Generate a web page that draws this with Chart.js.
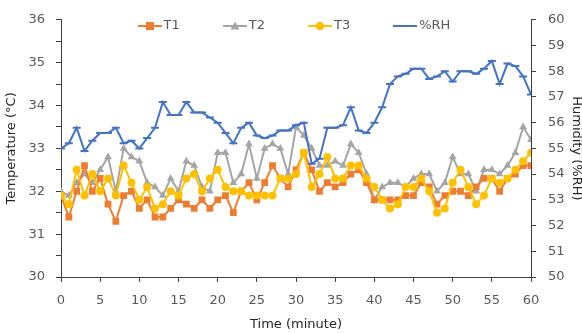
<!DOCTYPE html>
<html>
<head>
<meta charset="utf-8">
<script src="https://cdn.jsdelivr.net/npm/chart.js@4/dist/chart.umd.min.js"></script>
<style>
html,body{margin:0;padding:0;background:#fff;}
#wrap{width:582px;height:333px;position:relative;}
</style>
</head>
<body>
<div id="wrap"><canvas id="c" width="582" height="333"></canvas></div>
<script>
const minutes = Array.from({length: 61}, (_, i) => i);
const t1 = [31.9,31.4,32.0,32.6,32.0,32.3,31.7,31.3,31.9,32.0,31.6,31.8,31.4,31.4,31.6,31.8,31.7,31.6,31.8,31.6,
            31.8,31.9,31.5,32.0,32.2,31.8,32.2,32.6,32.3,32.1,32.5,32.9,32.5,32.0,32.2,32.1,32.2,32.4,32.5,32.2,
            31.8,31.8,31.8,31.8,31.9,31.9,32.2,32.1,31.7,31.9,32.0,32.0,31.9,32.1,32.3,32.3,32.0,32.3,32.4,32.6,32.6];
const t2 = [32.0,31.9,32.2,32.4,32.2,32.5,32.8,32.0,33.0,32.8,32.7,32.2,32.1,31.9,32.3,32.0,32.7,32.6,32.1,32.0,
            32.9,32.9,32.2,32.4,33.1,32.3,33.0,33.1,33.0,32.4,33.5,33.3,33.0,32.6,32.6,32.7,32.6,33.1,32.9,32.4,
            31.8,32.1,32.2,32.2,32.1,32.3,32.4,32.4,32.0,32.2,32.8,32.4,32.4,32.0,32.5,32.5,32.4,32.6,32.9,33.5,33.2];
const t3 = [31.9,31.7,32.5,31.9,32.4,32.0,32.3,31.9,32.6,32.2,31.8,32.1,31.6,31.7,32.0,31.9,32.3,32.4,32.0,32.3,
            32.5,32.1,32.0,32.0,31.9,31.9,31.9,31.9,32.3,32.3,32.4,32.9,32.1,32.4,32.8,32.3,32.3,32.6,32.6,32.3,
            32.1,31.8,31.6,31.7,32.1,32.1,32.3,32.0,31.5,31.6,32.2,32.5,32.1,31.7,31.9,32.3,32.2,32.3,32.5,32.7,32.9];
const rh = [55.0,55.2,55.8,54.9,55.3,55.6,55.6,55.8,55.2,55.3,55.0,55.4,55.8,56.8,56.3,56.3,56.8,56.4,56.4,56.2,
            56.0,55.6,55.2,55.8,56.0,55.5,55.4,55.5,55.7,55.7,55.9,56.0,54.4,54.6,55.8,55.8,55.9,56.6,55.7,55.6,
            56.0,56.6,57.5,57.8,57.9,58.1,58.1,57.7,57.8,58.0,57.6,58.0,58.0,57.9,58.1,58.4,57.5,58.3,58.2,57.8,57.1];
const seriesNames = ['T1','T2','T3','%RH'];
const xTicks = [0,5,10,15,20,25,30,35,40,45,50,55,60];
const tempTicks = [30,31,32,33,34,35,36];
const rhTicks = [50,51,52,53,54,55,56,57,58,59,60];

const colors = ['#ED7D31','#A5A5A5','#FFC000','#4472C4'];
const FONT = 'DejaVu Sans';

function pts(arr){ return minutes.map((m,i)=>({x:m, y:arr[i]})); }

function legendIcon(color, kind){
  const c = document.createElement('canvas');
  c.width = 24; c.height = 12;
  const g = c.getContext('2d');
  g.strokeStyle = color; g.lineWidth = 2;
  g.beginPath(); g.moveTo(0,6); g.lineTo(24,6); g.stroke();
  g.fillStyle = color;
  if(kind==='rect'){ g.fillRect(12-4,6-4,8,8); }
  else if(kind==='triangle'){ g.beginPath(); g.moveTo(12,1.5); g.lineTo(16.5,9.5); g.lineTo(7.5,9.5); g.closePath(); g.fill(); }
  else if(kind==='circle'){ g.beginPath(); g.arc(12,6,4.2,0,Math.PI*2); g.fill(); }
  return c;
}
const icons = [legendIcon(colors[0],'rect'),legendIcon(colors[1],'triangle'),legendIcon(colors[2],'circle'),legendIcon(colors[3],'none')];

const lineLegend = {
  id: 'lineLegend',
  afterDraw(chart){
    const ctx = chart.ctx;
    ctx.save();
    ctx.font = '13px "' + FONT + '"';
    const items = chart.data.datasets.map((d,i)=>({label:d.label, icon: icons[i]}));
    const markerW = 24, gapText = 2, gapItem = 43;
    const widths = items.map(it => markerW + gapText + ctx.measureText(it.label).width);
    const total = widths.reduce((a,b)=>a+b,0) + gapItem*(items.length-1);
    let x = (chart.chartArea.left + chart.chartArea.right)/2 - total/2 - 2;
    const y = 26;
    items.forEach((it,i)=>{
      ctx.drawImage(it.icon, Math.round(x), Math.round(y - it.icon.height/2));
      ctx.fillStyle = '#595959';
      ctx.textBaseline = 'middle';
      ctx.textAlign = 'left';
      ctx.fillText(it.label, x + markerW + gapText, y);
      x += widths[i] + gapItem;
    });
    ctx.restore();
  }
};

Chart.defaults.font.family = FONT;
Chart.defaults.font.size = 13;

new Chart(document.getElementById('c'), {
  type: 'line',
  data: {
    datasets: [
      {label: seriesNames[0], data: pts(t1), yAxisID:'y', borderColor: colors[0], backgroundColor: colors[0], borderWidth: 2, pointStyle:'rect', pointRadius: 4.8, pointBorderWidth: 0, order: 2},
      {label: seriesNames[1], data: pts(t2), yAxisID:'y', borderColor: colors[1], backgroundColor: colors[1], borderWidth: 2, pointStyle:'triangle', pointRadius: 4.5, pointBorderWidth: 0, order: 3},
      {label: seriesNames[2], data: pts(t3), yAxisID:'y', borderColor: colors[2], backgroundColor: colors[2], borderWidth: 2, pointStyle:'circle', pointRadius: 4, pointBorderWidth: 0, order: 1},
      {label: seriesNames[3], data: pts(rh), yAxisID:'y2', borderColor: colors[3], backgroundColor: colors[3], borderWidth: 2, pointStyle:'line', pointRadius: 4, pointBorderWidth: 2, order: 0}
    ]
  },
  plugins: [lineLegend],
  options: {
    responsive: false,
    animation: false,
    layout: {padding: {top: 17, left: 0, right: 0, bottom: 0}},
    plugins: {
      tooltip: {enabled:false},
      legend: {display: false}
    },
    scales: {
      x: {
        type: 'linear', min: 0, max: 60,
        afterBuildTicks(s){ s.ticks = xTicks.map(v=>({value:v})); },
        afterFit(s){ s.height = 56; },
        grid: {display: true, drawOnChartArea: false, drawTicks: true, tickLength: 5, color: '#404040'},
        border: {display: true, color: '#404040', width: 1},
        ticks: {color: '#595959', padding: 11, maxRotation: 0, font:{family: FONT, size: 13}},
        title: {display: true, text: 'Time (minute)', color: '#262626', font:{family: FONT, size: 13}, padding: {top: 2, bottom: 1}}
      },
      y: {
        position: 'left', min: 30, max: 36,
        afterBuildTicks(s){ const t=[]; for(let v=30; v<=36.001; v+=0.5) t.push({value: Math.round(v*10)/10}); s.ticks = t; },
        afterFit(s){ s.width = 61; },
        grid: {display: true, drawOnChartArea: false, drawTicks: true, tickLength: 5, color: '#404040'},
        border: {display: true, color: '#404040', width: 1},
        ticks: {color: '#595959', padding: 11, font:{family: FONT, size: 13},
          callback(v){ return tempTicks.includes(v) ? String(v) : ''; }},
        title: {display: true, text: 'Temperature (°C)', color: '#262626', font:{family: FONT, size: 13}, padding: {top: 4, bottom: 2}}
      },
      y2: {
        position: 'right', min: 50, max: 60,
        afterBuildTicks(s){ s.ticks = rhTicks.map(v=>({value:v})); },
        afterFit(s){ s.width = 51; },
        grid: {display: true, drawOnChartArea: false, drawTicks: true, tickLength: 5, color: '#404040'},
        border: {display: true, color: '#404040', width: 1},
        ticks: {color: '#595959', padding: 12, font:{family: FONT, size: 13}},
        title: {display: true, text: 'Humidity (%RH)', color: '#262626', font:{family: FONT, size: 13}, padding: {top: -2, bottom: 0}}
      }
    }
  }
});
</script>
</body>
</html>
